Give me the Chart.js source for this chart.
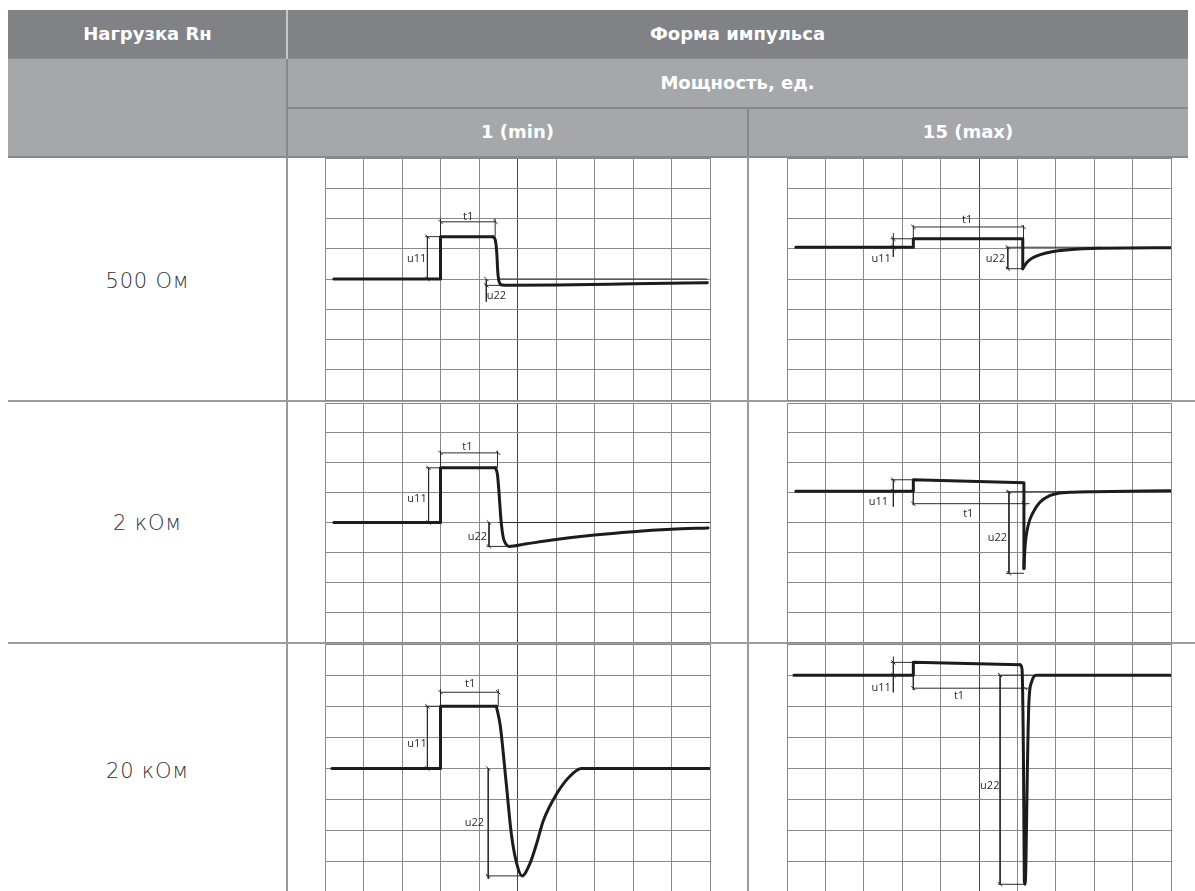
<!DOCTYPE html>
<html lang="ru">
<head>
<meta charset="utf-8">
<script src="https://cdn.jsdelivr.net/npm/chart.js@4.4.1/dist/chart.umd.min.js"></script>
<style>
body{margin:0;width:1195px;height:891px;overflow:hidden;background:#fff;position:relative;font-family:"DejaVu Sans",sans-serif}
.box{position:absolute}
.hd{position:absolute;color:#fff;font-weight:bold;font-size:18px;text-align:center;line-height:22px}
.rl{position:absolute;color:#333;font-family:"DejaVu Sans",sans-serif;font-weight:200;font-size:21px;text-align:center;width:279px;left:8px;line-height:24px;letter-spacing:0.8px}
canvas{position:absolute}
</style>
</head>
<body>
<!-- header -->
<div class="box" style="left:8px;top:10px;width:1180px;height:49px;background:#818286"></div>
<div class="box" style="left:8px;top:59px;width:1180px;height:98px;background:#a6a7aa"></div>
<div class="box" style="left:8px;top:58px;width:1180px;height:1px;background:#8e8f93"></div>
<div class="box" style="left:287px;top:107px;width:901px;height:2px;background:#87888c"></div>
<div class="box" style="left:8px;top:156px;width:1180px;height:2px;background:#87888c"></div>
<div class="box" style="left:286px;top:10px;width:2px;height:49px;background:#c6c7c9"></div>
<div class="box" style="left:286px;top:59px;width:2px;height:98px;background:#87888c"></div>
<div class="box" style="left:747px;top:108px;width:2px;height:49px;background:#87888c"></div>
<div class="hd" style="left:8px;top:23px;width:279px">Нагрузка Rн</div>
<div class="hd" style="left:287px;top:23px;width:901px">Форма импульса</div>
<div class="hd" style="left:287px;top:72px;width:901px">Мощность, ед.</div>
<div class="hd" style="left:287px;top:121px;width:461px">1 (min)</div>
<div class="hd" style="left:748px;top:121px;width:440px">15 (max)</div>
<!-- body lines -->
<div class="box" style="left:286px;top:157px;width:2px;height:734px;background:#9a9a9a"></div>
<div class="box" style="left:747px;top:157px;width:2px;height:734px;background:#9a9a9a"></div>
<div class="box" style="left:8px;top:400px;width:1187px;height:2px;background:#9d9d9d"></div>
<div class="box" style="left:8px;top:642px;width:1187px;height:2px;background:#9d9d9d"></div>
<div class="rl" style="top:269px">500 Ом</div>
<div class="rl" style="top:511px">2 кОм</div>
<div class="rl" style="top:759px">20 кОм</div>

<canvas id="c500min"></canvas>
<canvas id="c500max"></canvas>
<canvas id="c2kmin"></canvas>
<canvas id="c2kmax"></canvas>
<canvas id="c20kmin"></canvas>
<canvas id="c20kmax"></canvas>

<script>
// grid: x 0..10 divisions, y -4..4 divisions
const xTicks=[0,10]
const yTicks=[-4,4]

// 500 Ом, min
const step500min=[[0.23,0],[3.0,0],[3.0,1.4],[4.36,1.4]]
const tail500min=[[4.36,1.4],[4.42,1.3],[4.46,0.9],[4.49,0.2],[4.53,-0.12],[4.6,-0.2],[4.75,-0.21],[6,-0.2],[8,-0.16],[9.93,-0.12]]
const ref500min=[[[4.5,0],[9.93,0]],[[2.6,1.4],[3.0,1.4]],[[3.0,1.4],[3.0,2.0]],[[4.42,1.4],[4.42,2.0]],[[4.15,-0.21],[4.6,-0.21]],[[4.19,-0.21],[4.19,-0.75]]]
const dims500min=[[[3.0,1.89],[4.43,1.89]],[[2.66,1.4],[2.66,0]],[[4.19,0],[4.19,-0.21]]]
const text500min=[['t1',3.72,2.07],['u11',2.38,0.67],['u22',4.45,-0.55]]

// 500 Ом, max
const step500max=[[0.23,1.05],[3.29,1.05],[3.29,1.33],[6.14,1.33],[6.14,0.34]]
const tail500max=[[6.14,0.34],[6.24,0.54],[6.4,0.7],[6.58,0.8],[6.9,0.9],[7.27,0.96],[8.1,1.02],[10,1.03]]
const ref500max=[[[5.7,1.05],[8.2,1.05]],[[2.7,1.33],[3.29,1.33]],[[2.77,1.05],[2.77,0.73]],[[2.77,1.33],[2.77,1.52]],[[3.29,1.33],[3.29,1.78]],[[6.16,1.33],[6.16,1.78]],[[5.7,0.34],[6.14,0.34]]]
const dims500max=[[[3.29,1.72],[6.16,1.72]],[[2.77,1.33],[2.77,1.05]],[[5.75,1.05],[5.75,0.34]]]
const text500max=[['t1',4.69,1.95],['u11',2.45,0.67],['u22',5.43,0.67]]

// 2 кОм, min
const step2kmin=[[0.23,0],[3.0,0],[3.0,1.83],[4.43,1.83]]
const tail2kmin=[[4.43,1.83],[4.48,1.6],[4.52,1.0],[4.57,0.1],[4.63,-0.5],[4.7,-0.72],[4.78,-0.8],[5.2,-0.72],[6,-0.57],[7,-0.42],[8,-0.31],[9,-0.23],[9.95,-0.18]]
const ref2kmin=[[[4.5,0],[10,0]],[[2.62,1.83],[3.0,1.83]],[[3.0,1.83],[3.0,2.4]],[[4.48,1.83],[4.48,2.4]],[[4.2,-0.8],[4.75,-0.8]]]
const dims2kmin=[[[3.0,2.33],[4.5,2.33]],[[2.69,1.83],[2.69,0]],[[4.26,0],[4.26,-0.8]]]
const text2kmin=[['t1',3.7,2.52],['u11',2.39,0.8],['u22',3.96,-0.47]]

// 2 кОм, max
const step2kmax=[[0.23,1.05],[3.29,1.05],[3.29,1.43],[6.17,1.33],[6.17,-1.54]]
const tail2kmax=[[6.17,-1.54],[6.2,-0.8],[6.28,-0.1],[6.41,0.34],[6.58,0.67],[6.84,0.9],[7.1,0.99],[7.36,1.01],[8,1.03],[10,1.06]]
const ref2kmax=[[[5.7,1.03],[7.5,1.03]],[[2.7,1.43],[3.29,1.43]],[[2.77,1.05],[2.77,0.53]],[[3.29,1.05],[3.29,0.58]],[[6.17,0.63],[6.32,0.63]],[[5.7,-1.7],[6.17,-1.7]]]
const dims2kmax=[[[2.77,1.43],[2.77,1.05]],[[3.29,0.63],[6.17,0.63]],[[5.78,1.03],[5.78,-1.7]]]
const text2kmax=[['u11',2.38,0.7],['t1',4.72,0.3],['u22',5.48,-0.53]]

// 20 кОм, min
const step20kmin=[[0.18,0],[3.0,0],[3.0,2.0],[4.45,2.0]]
const tail20kmin=[[4.45,2.0],[4.55,1.4],[4.71,-0.51],[4.84,-2.1],[4.98,-3.06],[5.12,-3.45],[5.32,-3.06],[5.5,-2.4],[5.67,-1.68],[6.01,-0.83],[6.36,-0.25],[6.66,0],[10,0]]
const ref20kmin=[[[2.6,2.0],[3.0,2.0]],[[3.0,2.0],[3.0,2.55]],[[4.5,2.0],[4.5,2.55]],[[4.18,-3.45],[5.1,-3.45]],[[4.24,-3.45],[4.24,-3.55]]]
const dims20kmin=[[[3.0,2.45],[4.5,2.45]],[[2.66,2.0],[2.66,0]],[[4.24,0],[4.24,-3.45]]]
const text20kmin=[['t1',3.77,2.72],['u11',2.39,0.8],['u22',3.88,-1.75]]

// 20 кОм, max
const step20kmax=[[0.18,3.0],[3.29,3.0],[3.29,3.41],[6.07,3.33]]
const tail20kmax=[[6.07,3.33],[6.12,3.2],[6.16,0],[6.18,-3.6],[6.2,-3.72],[6.22,-3.16],[6.26,0],[6.3,2.14],[6.37,2.78],[6.49,3.0],[10,3.0]]
const ref20kmax=[[[5.5,3.0],[6.5,3.0]],[[2.7,3.41],[3.29,3.41]],[[2.77,3.0],[2.77,2.45]],[[2.77,3.41],[2.77,3.6]],[[3.29,3.0],[3.29,2.52]],[[6.2,2.58],[6.3,2.58]],[[5.5,-3.72],[6.2,-3.72]]]
const dims20kmax=[[[2.77,3.41],[2.77,3.0]],[[3.29,2.58],[6.2,2.58]],[[5.55,3.0],[5.55,-3.72]]]
const text20kmax=[['u11',2.45,2.6],['t1',4.48,2.32],['u22',5.28,-0.55]]

// where each grid sits on the page: left, top, width, height
const cells={
    c500min:[324,157,387,244],
    c500max:[786,157,386,244],
    c2kmin:[324,402,387,241],
    c2kmax:[786,402,386,241],
    c20kmin:[324,643,387,251],
    c20kmax:[786,643,386,251]
}
const PAD=4

function joinSegs(segs){
    let out=[]
    segs.forEach((s,i)=>{
        if(i>0) out.push([s[0][0],null])
        s.forEach(p=>out.push(p))
    })
    return out
}

const dimText={
    id:'dimText',
    afterDatasetsDraw(chart,args,opts){
        const ctx=chart.ctx
        ctx.save()
        ctx.font='11px "Open Sans", "DejaVu Sans", sans-serif'
        ctx.fillStyle='#2a2a2a'
        ctx.textAlign='center'
        ctx.textBaseline='middle'
        opts.items.forEach(t=>{
            ctx.fillText(t[0],chart.scales.x.getPixelForValue(t[1]),chart.scales.y.getPixelForValue(t[2]))
        })
        ctx.restore()
    }
}

function makeChart(id,step,tail,ref,dims,text){
    const c=cells[id]
    const el=document.getElementById(id)
    el.width=c[2]+PAD*2
    el.height=c[3]+PAD*2
    el.style.left=(c[0]-PAD)+'px'
    el.style.top=(c[1]-PAD)+'px'
    const gridOpts={
        color:(g)=>g.tick && g.tick.value===5 ? '#444' : '#8a8a8a',
        lineWidth:1,
        drawTicks:false
    }
    const trace={borderColor:'#1c1c1c',borderWidth:3,pointRadius:0,borderJoinStyle:'round',borderCapStyle:'round'}
    return new Chart(el.getContext('2d'),{
        type:'line',
        data:{
            datasets:[{
                ...trace,
                data:step,
                tension:0
            },{
                ...trace,
                data:tail,
                cubicInterpolationMode:'monotone'
            },{
                data:joinSegs(ref),
                borderColor:'#2a2a2a',
                borderWidth:1,
                pointRadius:0,
                spanGaps:false
            },{
                data:joinSegs(dims),
                borderColor:'#2a2a2a',
                borderWidth:1,
                pointStyle:'line',
                rotation:45,
                pointRadius:3,
                pointBorderWidth:1,
                pointBorderColor:'#2a2a2a',
                spanGaps:false
            }]
        },
        options:{
            responsive:false,
            animation:false,
            events:[],
            layout:{padding:PAD},
            scales:{
                x:{type:'linear',min:xTicks[0],max:xTicks[1],ticks:{display:false,stepSize:1},grid:gridOpts,border:{display:false}},
                y:{type:'linear',min:yTicks[0],max:yTicks[1],ticks:{display:false,stepSize:1},grid:gridOpts,border:{display:false}}
            },
            plugins:{legend:{display:false},tooltip:{enabled:false},dimText:{items:text}}
        },
        plugins:[dimText]
    })
}

makeChart('c500min',step500min,tail500min,ref500min,dims500min,text500min)
makeChart('c500max',step500max,tail500max,ref500max,dims500max,text500max)
makeChart('c2kmin',step2kmin,tail2kmin,ref2kmin,dims2kmin,text2kmin)
makeChart('c2kmax',step2kmax,tail2kmax,ref2kmax,dims2kmax,text2kmax)
makeChart('c20kmin',step20kmin,tail20kmin,ref20kmin,dims20kmin,text20kmin)
makeChart('c20kmax',step20kmax,tail20kmax,ref20kmax,dims20kmax,text20kmax)
</script>
</body>
</html>
